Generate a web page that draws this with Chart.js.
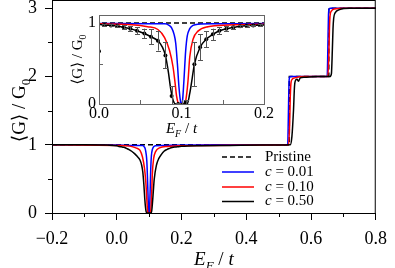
<!DOCTYPE html>
<html>
<head>
<meta charset="utf-8">
<script src="https://cdn.jsdelivr.net/npm/chart.js@4.4.1/dist/chart.umd.min.js"></script>
<style>
  html, body { margin: 0; padding: 0; background: #fff; }
  #wrap { position: relative; width: 395px; height: 268px; }
  #main { position: absolute; left: 0; top: 0; }
  #inset { position: absolute; left: 60px; top: 0; }
</style>
</head>
<body>
<div id="wrap">
  <canvas id="main" width="395" height="268"></canvas>
  <canvas id="inset" width="215" height="145"></canvas>
</div>
<script>
// ---- data ----
const pristineE = [-0.2, 0.533, 0.533, 0.655, 0.655, 0.8];
const pristineG = [1, 1, 2, 2, 3, 3];

const c01E = [-0.2, 0.0, 0.06, 0.08, 0.085, 0.088, 0.091, 0.093, 0.095, 0.097, 0.099, 0.1, 0.101, 0.103, 0.105, 0.107, 0.11, 0.114, 0.12, 0.14, 0.3,
              0.528, 0.530, 0.532, 0.534, 0.537, 0.56, 0.650, 0.652, 0.654, 0.656, 0.66, 0.8];
const c01G = [1, 0.995, 0.99, 0.99, 0.97, 0.94, 0.86, 0.75, 0.5, 0.2, 0.02, 0, 0.02, 0.3, 0.65, 0.84, 0.93, 0.97, 0.985, 0.99, 1,
              1, 1.4, 1.9, 1.99, 2.0, 2.0, 2.0, 2.4, 2.9, 2.99, 3.0, 3.0];

const c10E = [-0.2, 0.0, 0.04, 0.059, 0.0714, 0.0795, 0.0855, 0.0897, 0.092, 0.094, 0.096, 0.097, 0.104, 0.106, 0.108, 0.110, 0.114, 0.12, 0.132, 0.157, 0.2, 0.3, 0.5,
              0.531, 0.534, 0.536, 0.538, 0.542, 0.55, 0.58, 0.652, 0.655, 0.657, 0.659, 0.663, 0.672, 0.7, 0.8];
const c10G = [1, 0.99, 0.98, 0.955, 0.92, 0.82, 0.66, 0.46, 0.28, 0.1, 0.01, 0, 0, 0.1, 0.3, 0.58, 0.8, 0.9, 0.955, 0.975, 0.985, 0.99, 0.995,
              1.0, 1.3, 1.7, 1.9, 1.96, 1.98, 2.0, 2.0, 2.3, 2.7, 2.9, 2.96, 2.99, 3.0, 3.0];

const c50E = [-0.2, -0.1, -0.03, 0, 0.0065, 0.0145, 0.022, 0.030, 0.038, 0.046, 0.055, 0.063, 0.0714, 0.077, 0.0805, 0.084, 0.087, 0.090, 0.093,
              0.107, 0.110, 0.113, 0.1156, 0.1225, 0.130, 0.138, 0.146, 0.1545, 0.163, 0.171, 0.179, 0.187, 0.195, 0.2, 0.25, 0.35, 0.45,
              0.536, 0.541, 0.546, 0.549, 0.553, 0.557, 0.561, 0.567, 0.58, 0.62, 0.658, 0.663, 0.666, 0.668, 0.670, 0.674, 0.688, 0.72, 0.8];
const c50G = [1, 1, 0.995, 0.985, 0.975, 0.97, 0.963, 0.947, 0.93, 0.905, 0.87, 0.83, 0.78, 0.70, 0.60, 0.40, 0.18, 0.04, 0,
              0, 0.13, 0.32, 0.49, 0.70, 0.80, 0.86, 0.905, 0.93, 0.947, 0.96, 0.967, 0.97, 0.975, 0.977, 0.985, 0.99, 0.995,
              1.0, 1.12, 1.51, 1.85, 1.95, 1.96, 1.93, 1.98, 1.99, 2.0, 2.0, 2.04, 2.4, 2.7, 2.85, 2.93, 2.98, 3.0, 3.0];

// averaged points with error bars (inset, c = 0.50)
const avgE = [0, 0.0065, 0.0145, 0.022, 0.030, 0.038, 0.046, 0.055, 0.063, 0.0714, 0.0805, 0.088, 0.096, 0.105,
              0.1156, 0.1225, 0.130, 0.138, 0.146, 0.1545, 0.163, 0.171, 0.179, 0.187, 0.195];
const avgG = [0.65, 0.975, 0.97, 0.963, 0.947, 0.93, 0.905, 0.87, 0.83, 0.78, 0.60, 0.10, 0.0, 0.02,
              0.49, 0.70, 0.80, 0.86, 0.905, 0.93, 0.947, 0.96, 0.967, 0.97, 0.975];
const avgErr = [0, 0.01, 0.012, 0.018, 0.025, 0.03, 0.045, 0.06, 0.09, 0.12, 0.16, 0.12, 0.01, 0.03,
                0.27, 0.16, 0.10, 0.07, 0.045, 0.03, 0.02, 0.015, 0.012, 0.01, 0.01];

const seriesLabels = ['Pristine', 'c = 0.01', 'c = 0.10', 'c = 0.50'];
const seriesColors = ['#000000', '#0000ff', '#ff0000', '#000000'];

const xTicksMain = [-0.2, 0, 0.2, 0.4, 0.6, 0.8];
const xMinorMain = [-0.1, 0.1, 0.3, 0.5, 0.7];
const yTicksMain = [0, 1, 2, 3];
const yMinorMain = [0.5, 1.5, 2.5];
const xTicksInset = [0, 0.1, 0.2];
const xMinorInset = [0.05, 0.1, 0.15];
const yTicksInset = [0, 1];
const yMinorInset = [0.5];

const SERIF = '"Liberation Serif", "DejaVu Serif", serif';

const toXY = (xs, ys) => xs.map((x, i) => ({ x: x, y: ys[i] }));

function makeSets() {
  const line = (i, xs, ys, order) => ({
    label: seriesLabels[i],
    data: toXY(xs, ys),
    borderColor: seriesColors[i],
    backgroundColor: seriesColors[i],
    borderWidth: 1.5,
    pointRadius: 0,
    fill: false,
    order: order,
    borderDash: i === 0 ? [5, 3] : [],
    cubicInterpolationMode: i === 0 ? 'default' : 'monotone',
    tension: 0
  });
  return [
    line(0, pristineE, pristineG, 4),
    line(1, c01E, c01G, 3),
    line(2, c10E, c10G, 2),
    line(3, c50E, c50G, 1)
  ];
}

function fontOf(p) {
  return (p.i ? 'italic ' : '') + p.s + 'px ' + SERIF;
}
function drawRich(ctx, parts, cx, by) {
  let w = 0;
  parts.forEach(p => { ctx.font = fontOf(p); w += ctx.measureText(p.t).width; });
  let xx = cx - w / 2;
  ctx.textAlign = 'left';
  ctx.textBaseline = 'alphabetic';
  parts.forEach(p => {
    ctx.font = fontOf(p);
    ctx.fillText(p.t, xx, by + (p.dy || 0));
    xx += ctx.measureText(p.t).width;
  });
}
const gTitle = s => [{ t: '\u27E8G\u27E9 / G', s: s }, { t: '0', s: Math.round(s * 0.68), dy: Math.round(s * 0.25) }];
const eTitle = s => [{ t: 'E', s: s, i: true }, { t: 'F', s: Math.round(s * 0.68), i: true, dy: Math.round(s * 0.25) },
                     { t: ' / ', s: s }, { t: 't', s: s, i: true }];

const noPad = s => { s.paddingTop = 0; s.paddingBottom = 0; s.paddingLeft = 0; s.paddingRight = 0; };

// ---- main chart ----
const mainDecor = {
  id: 'mainDecor',
  afterDraw(chart) {
    const { ctx, chartArea: a, scales } = chart;
    ctx.save();
    ctx.strokeStyle = '#000';
    ctx.lineWidth = 1;
    ctx.strokeRect(a.left + 0.5, a.top + 0.5, a.right - a.left - 1, a.bottom - a.top);
    ctx.beginPath();
    xMinorMain.forEach(v => {
      const p = Math.round(scales.x.getPixelForValue(v)) + 0.5;
      ctx.moveTo(p, a.bottom); ctx.lineTo(p, a.bottom + 4);
    });
    yMinorMain.forEach(v => {
      const p = Math.round(scales.y.getPixelForValue(v)) + 0.5;
      ctx.moveTo(a.left, p); ctx.lineTo(a.left - 4, p);
    });
    ctx.stroke();

    ctx.fillStyle = '#000';
    // x title
    drawRich(ctx, eTitle(19), (a.left + a.right) / 2, 265);
    // y title
    ctx.save();
    ctx.translate(25, (a.top + a.bottom) / 2 + 4);
    ctx.rotate(-Math.PI / 2);
    drawRich(ctx, gTitle(19), 0, 0);
    ctx.restore();

    // legend
    const rows = [157, 172, 187, 201.5];
    chart.data.datasets.forEach((ds, i) => {
      const y = rows[i];
      ctx.save();
      ctx.strokeStyle = ds.borderColor;
      ctx.lineWidth = 1.5;
      ctx.setLineDash(ds.borderDash || []);
      ctx.beginPath();
      ctx.moveTo(222, y); ctx.lineTo(254, y);
      ctx.stroke();
      ctx.restore();
      ctx.textBaseline = 'middle';
      ctx.textAlign = 'left';
      let xx = 265;
      if (ds.label.startsWith('c ')) {
        ctx.font = 'italic 15px ' + SERIF;
        ctx.fillText('c', xx, y);
        xx += ctx.measureText('c').width;
        ctx.font = '15px ' + SERIF;
        ctx.fillText(ds.label.slice(1), xx, y);
      } else {
        ctx.font = '15px ' + SERIF;
        ctx.fillText(ds.label, xx, y);
      }
    });
    ctx.restore();
  }
};

const fmt1 = v => (v < 0 ? '\u2212' : '') + Math.abs(v).toFixed(1);

new Chart(document.getElementById('main').getContext('2d'), {
  type: 'line',
  data: { datasets: makeSets() },
  options: {
    responsive: false,
    animation: false,
    layout: { padding: { left: 0, right: 12, top: 0, bottom: 0 } },
    plugins: { legend: { display: false }, tooltip: { enabled: false } },
    scales: {
      x: {
        type: 'linear', min: -0.2, max: 0.8,
        afterBuildTicks: s => { s.ticks = xTicksMain.map(v => ({ value: v })); },
        afterFit: s => { s.height = 55; },
        border: { display: false },
        grid: { drawOnChartArea: false, drawTicks: true, tickLength: 7, color: '#000', tickColor: '#000' },
        ticks: { callback: v => fmt1(v), font: { family: SERIF, size: 18 }, color: '#000', padding: 8, maxRotation: 0, autoSkip: false }
      },
      y: {
        type: 'linear', min: 0, max: 3.1216,
        afterBuildTicks: s => { s.ticks = yTicksMain.map(v => ({ value: v })); },
        afterFit: s => { s.width = 52; noPad(s); },
        border: { display: false },
        grid: { drawOnChartArea: false, drawTicks: true, tickLength: 7, color: '#000', tickColor: '#000' },
        ticks: { callback: v => String(v), font: { family: SERIF, size: 18 }, color: '#000', padding: 8 }
      }
    }
  },
  plugins: [mainDecor]
});

// ---- inset ----
const insetDecor = {
  id: 'insetDecor',
  afterDatasetsDraw(chart) {
    const { ctx, scales } = chart;
    ctx.save();
    ctx.strokeStyle = '#555';
    ctx.lineWidth = 1;
    ctx.beginPath();
    avgE.forEach((e, i) => {
      if (!avgErr[i]) return;
      const px = Math.round(scales.x.getPixelForValue(e)) + 0.5;
      const y1 = scales.y.getPixelForValue(Math.max(0, avgG[i] - avgErr[i]));
      const y2 = scales.y.getPixelForValue(avgG[i] + avgErr[i]);
      ctx.moveTo(px, y1); ctx.lineTo(px, y2);
      ctx.moveTo(px - 2.5, Math.round(y1) + 0.5); ctx.lineTo(px + 2.5, Math.round(y1) + 0.5);
      ctx.moveTo(px - 2.5, Math.round(y2) + 0.5); ctx.lineTo(px + 2.5, Math.round(y2) + 0.5);
    });
    ctx.stroke();
    ctx.restore();
  },
  afterDraw(chart) {
    const { ctx, chartArea: a, scales } = chart;
    ctx.save();
    ctx.strokeStyle = '#666';
    ctx.lineWidth = 1;
    ctx.strokeRect(Math.round(a.left) + 0.5, Math.round(a.top) + 0.5, Math.round(a.right - a.left), Math.round(a.bottom - a.top));
    ctx.beginPath();
    xMinorInset.forEach(v => {
      const p = Math.round(scales.x.getPixelForValue(v)) + 0.5;
      ctx.moveTo(p, a.bottom); ctx.lineTo(p, a.bottom - 4);
    });
    yMinorInset.forEach(v => {
      const p = Math.round(scales.y.getPixelForValue(v)) + 0.5;
      ctx.moveTo(a.left, p); ctx.lineTo(a.left + 4, p);
    });
    ctx.stroke();
    ctx.fillStyle = '#000';
    drawRich(ctx, eTitle(15), (a.left + a.right) / 2, 133);
    ctx.save();
    ctx.translate(22, (a.top + a.bottom) / 2);
    ctx.rotate(-Math.PI / 2);
    drawRich(ctx, gTitle(15), 0, 0);
    ctx.restore();
    ctx.restore();
  }
};

const insetSets = makeSets();
insetSets.push({
  label: 'avg',
  data: toXY(avgE, avgG),
  showLine: false,
  pointRadius: 2,
  pointStyle: 'circle',
  pointBackgroundColor: '#000',
  pointBorderColor: '#000',
  pointBorderWidth: 0,
  order: 0
});

new Chart(document.getElementById('inset').getContext('2d'), {
  type: 'line',
  data: { datasets: insetSets },
  options: {
    responsive: false,
    animation: false,
    layout: { padding: { left: 0, right: 11, top: 15, bottom: 0 } },
    plugins: { legend: { display: false }, tooltip: { enabled: false } },
    scales: {
      x: {
        type: 'linear', min: 0, max: 0.2,
        afterBuildTicks: s => { s.ticks = xTicksInset.map(v => ({ value: v })); },
        afterFit: s => { s.height = 41; noPad(s); },
        border: { display: false },
        grid: { display: false, drawTicks: false },
        ticks: { callback: v => v.toFixed(1), font: { family: SERIF, size: 16 }, color: '#000', padding: 0, maxRotation: 0, autoSkip: false }
      },
      y: {
        type: 'linear', min: 0, max: 1.099,
        afterBuildTicks: s => { s.ticks = yTicksInset.map(v => ({ value: v })); },
        afterFit: s => { s.width = 39; noPad(s); },
        border: { display: false },
        grid: { display: false, drawTicks: false },
        ticks: { callback: v => String(v), font: { family: SERIF, size: 16 }, color: '#000', padding: 3 }
      }
    }
  },
  plugins: [insetDecor]
});
</script>
</body>
</html>
